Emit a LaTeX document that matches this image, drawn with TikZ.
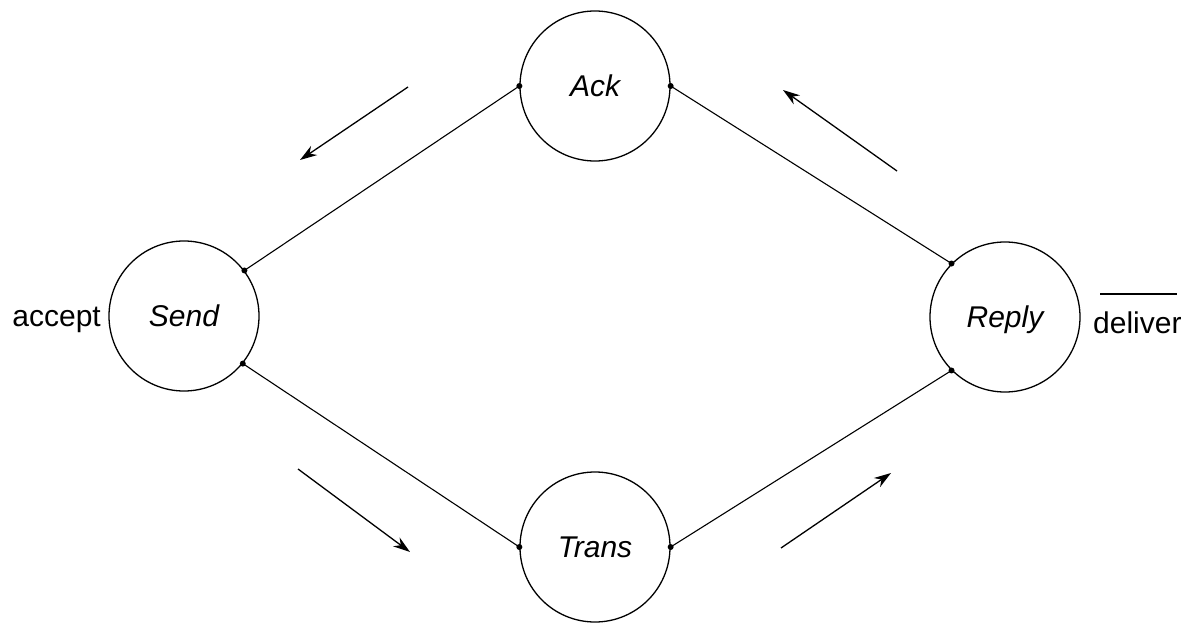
\documentclass[tikz,border=0pt]{standalone}
\usepackage{fontspec}
\setmainfont{Liberation Sans}
\usetikzlibrary{arrows.meta}
\begin{document}
\begin{tikzpicture}[x=1pt,y=-1pt,
  state/.style={circle,draw,line width=1.3pt,minimum size=150pt,inner sep=0pt,
    font=\fontsize{30}{36}\selectfont\itshape,text height=21.5pt,text depth=0pt},
  link/.style={line width=1.1pt},
  port/.style={circle,fill,inner sep=0pt,minimum size=6pt},
  flow/.style={line width=1.3pt,-{Stealth[length=17pt,width=11pt]}},
  lbl/.style={font=\fontsize{30}{36}\selectfont,inner sep=0pt}]
\useasboundingbox (0,0) rectangle (1200,624);

% states
\node[state] (ack)   at (595,86)  {Ack};
\node[state] (send)  at (184,316) {Send};
\node[state] (reply) at (1005,317) {Reply};
\node[state] (trans) at (595,547) {Trans};

% external actions
\node[lbl,anchor=base east] (accept) at (101,326) {accept};
\node[lbl,anchor=base west] (deliver) at (1093,333) {deliver};
\draw[line width=1.6pt] ([shift={(7,-17)}]deliver.north west) -- ([shift={(-5,-17)}]deliver.north east);

% channels
\draw[link] (send.37) -- (ack.west);
\draw[link] (ack.east) -- (reply.135);
\draw[link] (send.-39) -- (trans.west);
\draw[link] (trans.east) -- (reply.225);

% ports
\foreach \p in {send.37,send.-39,ack.west,ack.east,trans.west,trans.east,reply.135,reply.225}
  \node[port] at (\p) {};

% direction of flow
\coordinate (f1s) at (408,87);  \coordinate (f1e) at (300,160);
\coordinate (f2s) at (897,171); \coordinate (f2e) at (783,90);
\coordinate (f3s) at (298,469); \coordinate (f3e) at (410,552);
\coordinate (f4s) at (781,548); \coordinate (f4e) at (891,473);
\draw[flow] (f1s) -- (f1e);
\draw[flow] (f2s) -- (f2e);
\draw[flow] (f3s) -- (f3e);
\draw[flow] (f4s) -- (f4e);
\end{tikzpicture}
\end{document}
